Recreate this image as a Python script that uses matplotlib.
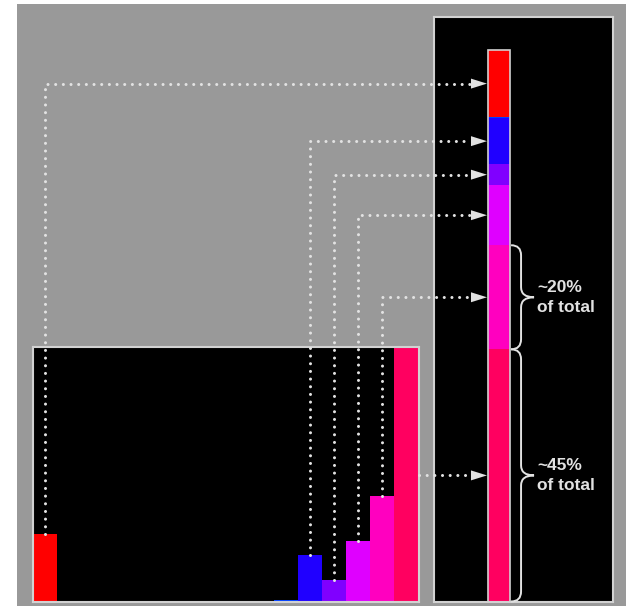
import numpy as np
import matplotlib
matplotlib.use("Agg")
import matplotlib.pyplot as plt
from matplotlib.colors import hsv_to_rgb
from matplotlib.path import Path
from matplotlib.patches import PathPatch, Polygon, Rectangle

plt.rcParams['font.family'] = ['Liberation Sans', 'DejaVu Sans']

# Hue histogram: 16 hue bins, pixel counts per bin
n_bins = 16
bin_index = np.arange(n_bins)
pixel_counts = [67, 0, 0, 0, 0, 0, 0, 0, 0, 0, 1, 46, 21, 60, 104, 252]
linked_bins = [0, 11, 12, 13, 14, 15]
brace_bins = [14, 15]
brace_labels = ["~20%\nof total", "~45%\nof total"]

bin_colors = [hsv_to_rgb((i / n_bins, 1.0, 1.0)) for i in bin_index]

W, H = 626, 606
BG = '#999999'
BORDER = '#d2d2d2'
ANNOT = '#e2e2e2'

fig = plt.figure(figsize=(W / 100, H / 100), dpi=100)
fig.patch.set_facecolor('white')
fig.add_artist(Rectangle((17 / W, 0), 1 - 17 / W, 1 - 4 / H,
                         transform=fig.transFigure, facecolor=BG,
                         edgecolor='none', zorder=0))


def style_panel(ax):
    ax.set_facecolor('black')
    ax.set_xticks([])
    ax.set_yticks([])
    for s in ax.spines.values():
        s.set_color(BORDER)
        s.set_linewidth(1.5)


# Histogram panel
axL = fig.add_axes([32.5 / W, 4.5 / H, 386 / W, 255 / H])
style_panel(axL)
axL.bar(bin_index, pixel_counts, width=1.0, align='edge',
        color=bin_colors, linewidth=0)
axL.set_xlim(0, n_bins)
axL.set_ylim(0, max(pixel_counts))

# Stacked total panel (highest hue bin at the bottom)
axR = fig.add_axes([433.5 / W, 4.5 / H, 179.5 / W, 584.5 / H])
style_panel(axR)
total = sum(pixel_counts)
bar_x, bar_w = 0.365, 0.123
segments = {}
base = 0
for i in bin_index[::-1]:
    axR.bar(bar_x, pixel_counts[i], bottom=base, width=bar_w,
            color=bin_colors[i], linewidth=0)
    segments[i] = (base, base + pixel_counts[i])
    base += pixel_counts[i]
axR.bar(bar_x, total, width=bar_w, fill=False, edgecolor=BORDER, linewidth=1.2)
axR.set_xlim(0, 1)
axR.set_ylim(0, total * 1.06)

# Overlay in pixel coordinates for connectors and braces
ov = fig.add_axes([0, 0, 1, 1])
ov.set_xlim(0, W)
ov.set_ylim(0, H)
ov.axis('off')
ov.set_zorder(5)
ov.patch.set_alpha(0)

bar_left = axR.transData.transform((bar_x - bar_w / 2, 0))[0] - 1
bar_right = axR.transData.transform((bar_x + bar_w / 2, 0))[0] + 1
panel_right = axL.transAxes.transform((1, 0))[0]
head_len, head_half = 16, 5

for i in linked_bins:
    lo, hi = segments[i]
    y_arrow = axR.transData.transform((0, (lo + hi) / 2))[1]
    x_end = bar_left - head_len
    if pixel_counts[i] < max(pixel_counts):
        x0, y0 = axL.transData.transform((i + 0.5, pixel_counts[i]))
        xs, ys = [x0, x0, x_end], [y0, y_arrow, y_arrow]
    else:
        xs, ys = [panel_right, x_end], [y_arrow, y_arrow]
    ov.plot(xs, ys, color=ANNOT, lw=2.2, linestyle=(0, (0.01, 2.5)),
            dash_capstyle='round', solid_joinstyle='round')
    ov.add_patch(Polygon([(bar_left, y_arrow),
                          (bar_left - head_len, y_arrow + head_half),
                          (bar_left - head_len, y_arrow - head_half)],
                         closed=True, facecolor=ANNOT, edgecolor='none'))

# Curly braces with share labels
for i, label in zip(brace_bins, brace_labels):
    lo, hi = segments[i]
    y_b = axR.transData.transform((0, lo))[1]
    y_t = axR.transData.transform((0, hi))[1]
    y_m = (y_t + y_b) / 2
    x0 = bar_right
    x1 = x0 + 10
    x2 = x0 + 23
    r = 10
    verts = [(x0, y_t), (x1, y_t), (x1, y_t - r),
             (x1, y_m + r), (x1, y_m), (x2, y_m),
             (x1, y_m), (x1, y_m - r),
             (x1, y_b + r), (x1, y_b), (x0, y_b)]
    codes = [Path.MOVETO, Path.CURVE3, Path.CURVE3,
             Path.LINETO, Path.CURVE3, Path.CURVE3,
             Path.CURVE3, Path.CURVE3,
             Path.LINETO, Path.CURVE3, Path.CURVE3]
    ov.add_patch(PathPatch(Path(verts, codes), facecolor='none',
                           edgecolor=ANNOT, lw=1.4))
    ov.text(x2 + 3, y_m, label, ha='left', va='center', fontsize=12.5,
            fontweight='bold', color=ANNOT, linespacing=1.4)

fig.savefig('out.png', dpi=100, facecolor='white')
